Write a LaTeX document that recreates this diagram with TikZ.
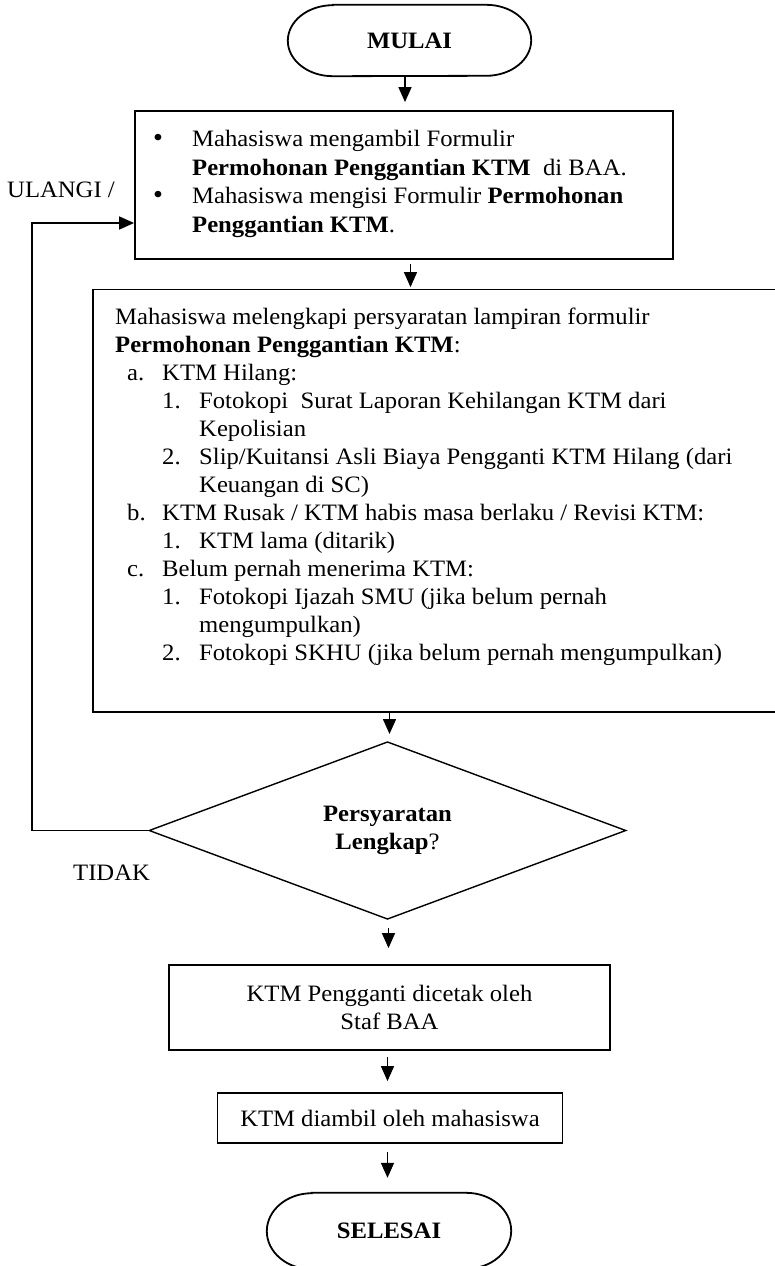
\documentclass[tikz,border=0pt]{standalone}
\usepackage{fontspec}
\setmainfont{Liberation Serif}[FakeStretch=1.05]
\usetikzlibrary{shapes.geometric,arrows.meta}

% rounded terminal outline drawn around a (borderless) node
\newcommand\drawterminal[2]{%
  \draw[line width=1.8pt]
    ([xshift=45pt]#1.north west) -- ([xshift=-45pt]#1.north east)
    arc[start angle=90,end angle=-90,x radius=45pt,y radius=#2]
    -- ([xshift=45pt]#1.south west)
    arc[start angle=-90,end angle=-270,x radius=45pt,y radius=#2]
    -- cycle;}
% list bullet, a little larger than the text
\newcommand\bulletmark{{\fontsize{27}{28}\selectfont\textbullet}}

\begin{document}
\begin{tikzpicture}[x=1pt,y=-1pt,
  every node/.style={font=\fontsize{23.5}{28.2}\selectfont, inner sep=0pt},
  box/.style={draw, rectangle, line width=1.8pt},
  termnode/.style={rectangle},
  arr/.style={line width=1.5pt, -{Triangle[length=15pt,width=13pt]}},
  lbl/.style={anchor=base west}]
\useasboundingbox (0,0) rectangle (775,1266);

% start
\node[termnode, minimum width=243pt, minimum height=71pt] (start) at (409.5,40.5) {\bfseries MULAI};
\drawterminal{start}{35.5pt}

% step 1: form
\node[box, minimum width=538pt, minimum height=148pt] (proc1) at (404,185) {};
\node[lbl] (proc1txt) at (153,146.5) {\parbox[t]{515pt}{\fontsize{23.5}{28.5}\selectfont
  \makebox[39pt][l]{\bulletmark}Mahasiswa mengambil Formulir\par
  \hspace*{39pt}\textbf{Permohonan Penggantian KTM}\ \ di BAA.\par
  \makebox[39pt][l]{\bulletmark}Mahasiswa mengisi Formulir \textbf{Permohonan}\par
  \hspace*{39pt}\textbf{Penggantian KTM}.}};

% step 2: requirements
\node[box, minimum width=707pt, minimum height=422.5pt] (proc2) at (446.5,500.75) {};
\node[lbl] (proc2txt) at (115,324) {\parbox[t]{650pt}{\fontsize{23.5}{28}\selectfont
  Mahasiswa melengkapi persyaratan lampiran formulir\par
  \textbf{Permohonan Penggantian KTM}:\par
  \hspace*{12pt}\makebox[35pt][l]{a.}KTM Hilang:\par
  \hspace*{47pt}\makebox[37pt][l]{1.}Fotokopi\ \ Surat Laporan Kehilangan KTM dari\par
  \hspace*{84pt}Kepolisian\par
  \hspace*{47pt}\makebox[37pt][l]{2.}Slip/Kuitansi Asli Biaya Pengganti KTM Hilang (dari\par
  \hspace*{84pt}Keuangan di SC)\par
  \hspace*{12pt}\makebox[35pt][l]{b.}KTM Rusak / KTM habis masa berlaku / Revisi KTM:\par
  \hspace*{47pt}\makebox[37pt][l]{1.}KTM lama (ditarik)\par
  \hspace*{12pt}\makebox[35pt][l]{c.}Belum pernah menerima KTM:\par
  \hspace*{47pt}\makebox[37pt][l]{1.}Fotokopi Ijazah SMU (jika belum pernah\par
  \hspace*{84pt}mengumpulkan)\par
  \hspace*{47pt}\makebox[37pt][l]{2.}Fotokopi SKHU (jika belum pernah mengumpulkan)}};

% decision
\node[diamond, draw, line width=1.4pt, minimum width=477pt, minimum height=171pt,
      align=center] (dec) at (387.5,830.5) {\textbf{Persyaratan}\\\textbf{Lengkap}?};

% step 3 and 4
\node[box, minimum width=441pt, minimum height=85pt, align=center] (proc3) at (389.5,1007.5)
  {KTM Pengganti dicetak oleh\\Staf BAA};
\node[box, minimum width=345pt, minimum height=50pt] (proc4) at (390,1118)
  {KTM diambil oleh mahasiswa};

% end
\node[termnode, minimum width=244pt, minimum height=76pt] (stop) at (389,1231) {\bfseries SELESAI};
\drawterminal{stop}{38pt}

% side labels
\node[lbl] (ulangi) at (7,197) {ULANGI /};
\node[lbl] (tidak) at (73,880) {TIDAK};

% main flow
\draw[arr, shorten >=8pt] ([xshift=-4.5pt]start.south) -- ([xshift=-4.5pt]start.south |- proc1.north);
\draw[arr, shorten <=4pt, shorten >=1.5pt] ([xshift=6.5pt]proc1.south) -- ([xshift=6.5pt]proc1.south |- proc2.north);
\draw[arr, shorten >=7pt] ([xshift=2pt]dec.north |- proc2.south) -- ([xshift=2pt]dec.north);
\draw[arr, shorten <=8pt, shorten >=16pt] ([xshift=1pt]dec.south) -- ([xshift=1pt]dec.south |- proc3.north);
\draw[arr, shorten <=6pt, shorten >=11pt] ([xshift=-2pt]proc3.south) -- ([xshift=-2pt]proc3.south |- proc4.north);
\draw[arr, shorten <=8pt, shorten >=15pt] ([xshift=-2.5pt]proc4.south) -- ([xshift=-2.5pt]proc4.south |- stop.north);

% loop back when incomplete
\coordinate (loopx) at (32,0);
\draw[arr] (dec.west) -- (dec.west -| loopx) |- ([yshift=-38pt]proc1.west);
\end{tikzpicture}
\end{document}
